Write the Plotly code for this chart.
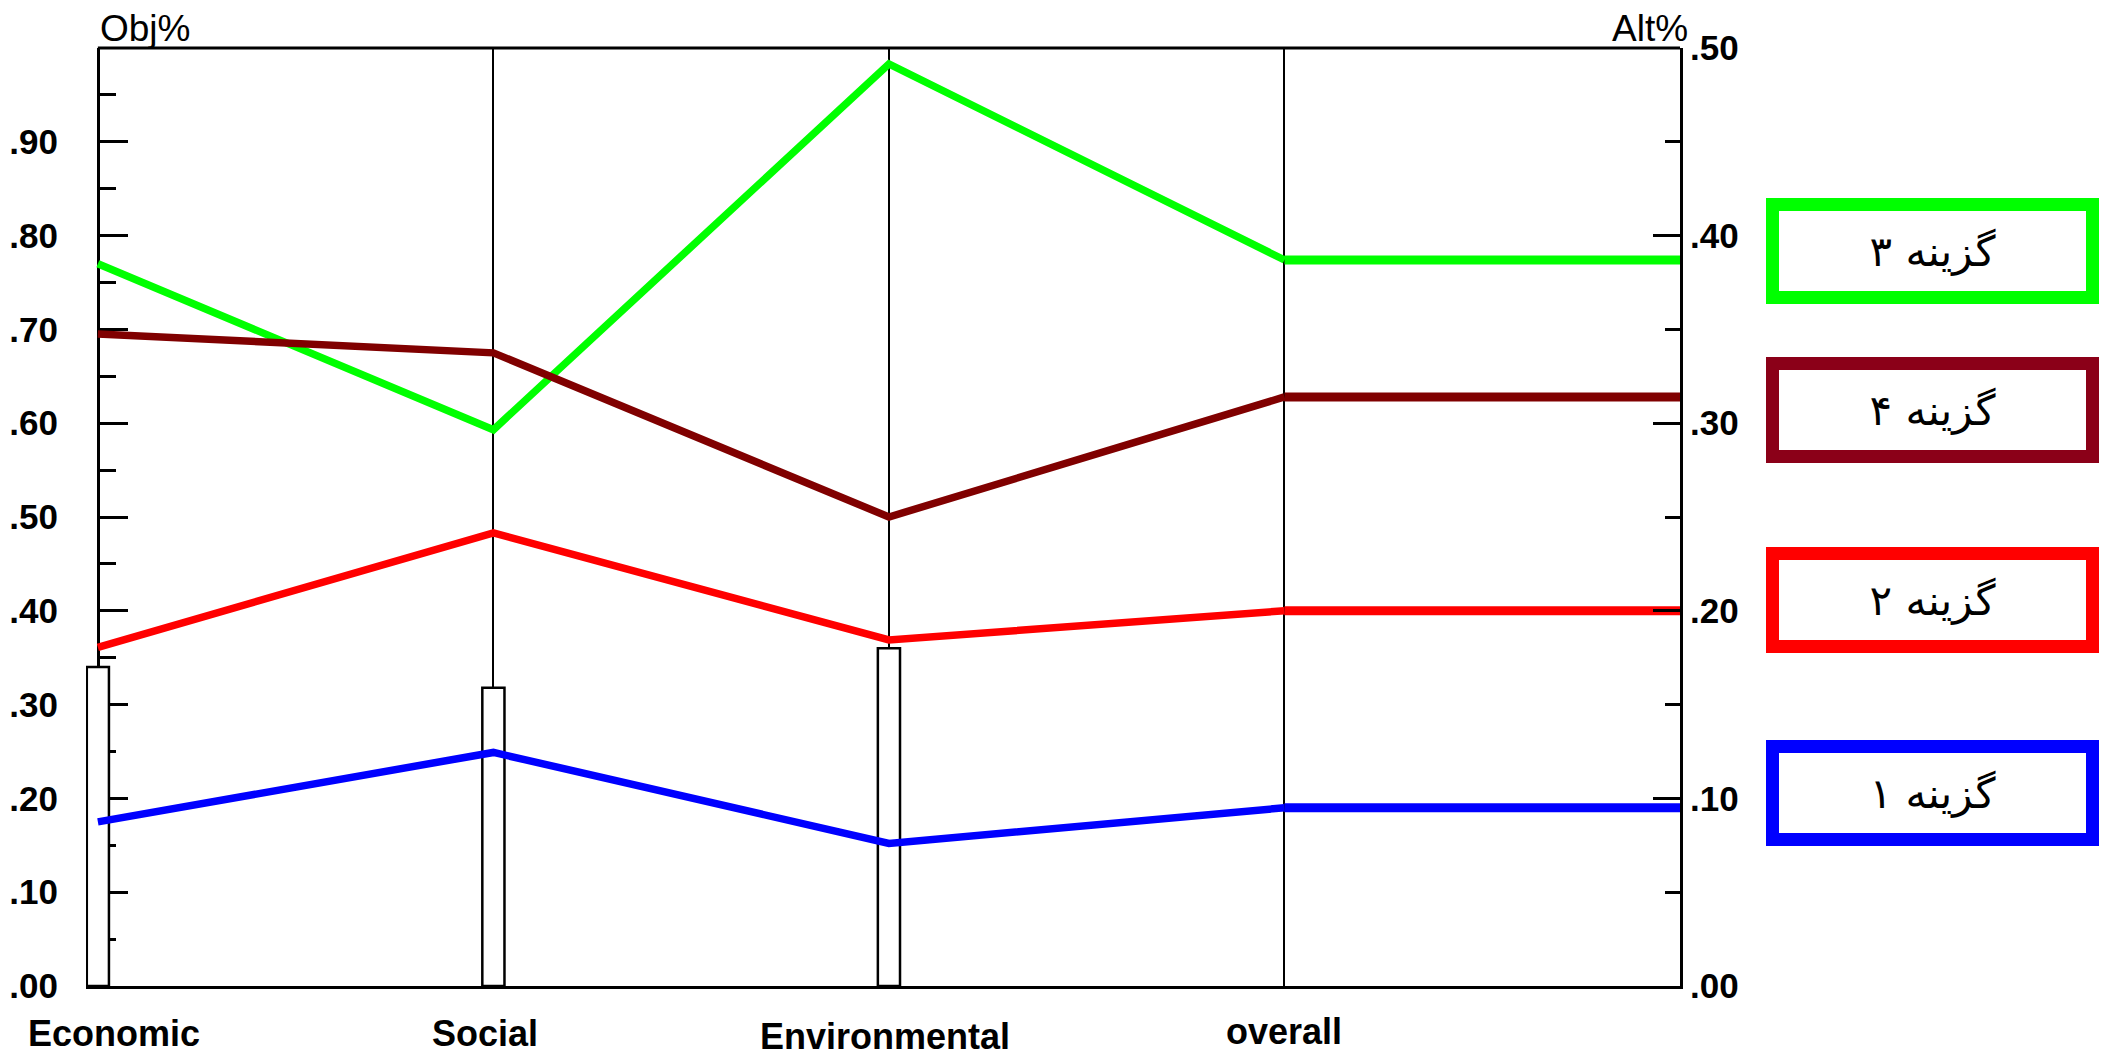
import plotly.graph_objects as go

# ---------------- data ----------------
categories = ["Economic", "Social", "Environmental", "overall"]
obj_weights = [0.340, 0.318, 0.360]          # Obj% bars (Economic, Social, Environmental)

series_names = ["گزینه ۱", "گزینه ۲", "گزینه ۳", "گزینه ۴"]
economic = [0.175, 0.361, 0.770, 0.695]
social = [0.249, 0.483, 0.593, 0.675]
environmental = [0.152, 0.369, 0.983, 0.500]
overall_alt = [0.095, 0.200, 0.387, 0.314]   # Alt% (right axis)

obj_tickvals = [0.0, 0.1, 0.2, 0.3, 0.4, 0.5, 0.6, 0.7, 0.8, 0.9]
obj_ticktext = [".00", ".10", ".20", ".30", ".40", ".50", ".60", ".70", ".80", ".90"]
alt_tickvals = [0.0, 0.1, 0.2, 0.3, 0.4, 0.5]
alt_ticktext = [".00", ".10", ".20", ".30", ".40", ".50"]

# ---------------- style ----------------
line_colors = ["#0000FF", "#FF0000", "#00FF00", "#800000"]
box_colors = ["#0000FF", "#FF0000", "#00FF00", "#8B0018"]
box_y = [0.2058, 0.4115, 0.7836, 0.6136]     # paper positions of legend boxes
label_xshift = [16, -8, -4, 0]               # px offsets of category labels
label_yshift = [-25, -25, -28, -23]
draw_order = [0, 1, 2, 3]

OBJ_RANGE = [0, 1.0]
ALT_RANGE = [0, 0.5]
conv = OBJ_RANGE[1] / ALT_RANGE[1]
X_RANGE = [-0.03, 4]
cat_x = list(range(len(categories)))

W, H = 2103, 1057
L, R, T, B = 86, 2103 - 1680, 48, 1057 - 986

sans = "Liberation Sans, Arial"

fig = go.Figure()

fig.add_trace(go.Bar(
    x=cat_x[:3], y=obj_weights, width=0.056,
    marker=dict(color="white", line=dict(color="black", width=2.5)),
    yaxis="y", showlegend=False, hoverinfo="skip"))

for i in draw_order:
    ys = [economic[i], social[i], environmental[i], overall_alt[i] * conv]
    fig.add_trace(go.Scatter(
        x=cat_x, y=ys, mode="lines", name=series_names[i],
        line=dict(color=line_colors[i], width=7.5), yaxis="y", showlegend=False))
for i in draw_order:
    fig.add_trace(go.Scatter(
        x=[cat_x[-1], X_RANGE[1]], y=[overall_alt[i], overall_alt[i]], mode="lines",
        line=dict(color=line_colors[i], width=9), yaxis="y2", showlegend=False,
        hoverinfo="skip"))

fig.update_layout(
    width=W, height=H,
    margin=dict(l=L, r=R, t=T, b=B, pad=0, autoexpand=False),
    plot_bgcolor="white", paper_bgcolor="white",
    showlegend=False,
    xaxis=dict(
        range=X_RANGE, tickvals=cat_x, ticktext=[""] * len(categories), automargin=False,
        showgrid=True, gridcolor="black", gridwidth=2,
        zeroline=False, showline=True, linecolor="black", linewidth=3,
        ticks="",
    ),
    yaxis=dict(
        range=OBJ_RANGE, anchor="free", position=(0 - X_RANGE[0]) / (X_RANGE[1] - X_RANGE[0]),
        tickvals=obj_tickvals, ticktext=obj_ticktext, automargin=False,
        showgrid=False, zeroline=False, showline=True, linecolor="black", linewidth=3,
        ticks="inside", ticklen=28, tickwidth=3, tickcolor="black",
        minor=dict(ticks="inside", ticklen=16, tickwidth=2.5, tickcolor="black",
                   dtick=0.05, tick0=0, showgrid=False),
        ticklabelstandoff=32, layer="below traces",
        tickfont=dict(family=sans, size=35, color="black", weight="bold"),
    ),
    yaxis2=dict(
        range=ALT_RANGE, overlaying="y", side="right", anchor="x", automargin=False,
        tickvals=alt_tickvals, ticktext=alt_ticktext,
        showgrid=False, zeroline=False, showline=True, linecolor="black", linewidth=3,
        ticks="inside", ticklen=27, tickwidth=3, tickcolor="black",
        minor=dict(ticks="inside", ticklen=15, tickwidth=2.5, tickcolor="black",
                   dtick=0.05, tick0=0.05, showgrid=False),
        ticklabelstandoff=0,
        tickfont=dict(family=sans, size=35, color="black", weight="bold"),
    ),
)

# top frame line
fig.add_shape(type="line", xref="x", yref="paper", x0=0, x1=X_RANGE[1], y0=1, y1=1,
              line=dict(color="black", width=3))

# category labels
for i, c in enumerate(categories):
    fig.add_annotation(text=c, xref="x", yref="paper", x=cat_x[i], y=0,
                       xanchor="center", yanchor="top", xshift=label_xshift[i],
                       yshift=label_yshift[i], showarrow=False,
                       font=dict(family=sans, size=36, color="black", weight="bold"))

# axis titles
fig.add_annotation(text="Obj%", xref="x", yref="paper", x=0, y=1, xanchor="left",
                   yanchor="bottom", yshift=-3, showarrow=False,
                   font=dict(family=sans, size=37, color="black"))
fig.add_annotation(text="Alt%", xref="x", yref="paper", x=X_RANGE[1], y=1, xanchor="right",
                   yanchor="bottom", xshift=10, yshift=-3, showarrow=False,
                   font=dict(family=sans, size=37, color="black"))

# legend boxes
for i in range(len(series_names)):
    fig.add_annotation(text=series_names[i], xref="paper", yref="paper",
                       x=1.1587, y=box_y[i], xanchor="center", yanchor="middle",
                       showarrow=False, width=307, height=80, borderpad=0,
                       borderwidth=13, bordercolor=box_colors[i], bgcolor="white",
                       font=dict(family="DejaVu Sans, Noto Sans", size=42, color="black"))

fig.write_html("out.html", config={"displayModeBar": False},
               post_script="document.body.style.margin='0';")
